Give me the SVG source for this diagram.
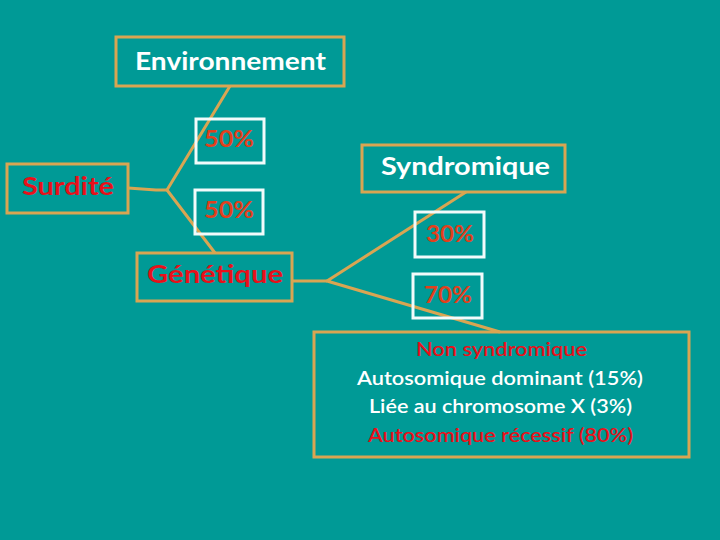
<svg xmlns="http://www.w3.org/2000/svg" width="720" height="540" viewBox="0 0 720 540">
<style>
.bg{fill:#009A96}
.ob{fill:none;stroke:#D9A552;stroke-width:3}
.wb{fill:none;stroke:#F2FBFB;stroke-width:3}
.ln{fill:none;stroke:#D9A552;stroke-width:3;stroke-linejoin:round}
text{font-family:Lato,"Open Sans","Liberation Sans",sans-serif;font-weight:bold}
.w{fill:#FFFFFF}
.r{fill:#E8101A}
.p{fill:#E2401C}
.m{font-size:19px;font-weight:600}
</style>
<rect class="bg" x="0" y="0" width="720" height="540"/>
<g id="connectors">
<polyline class="ln" points="128,188 156,190 167,190"/>
<polyline class="ln" points="230,86 167,190 215,253"/>
<polyline class="ln" points="292,281 327,281"/>
<polyline class="ln" points="466,192 327,281 500,332"/>
</g>
<g id="environnement">
<rect class="ob" x="116" y="37" width="228" height="49"/>
<text class="w" x="135" y="70" font-size="25" textLength="191" lengthAdjust="spacingAndGlyphs">Environnement</text>
</g>
<g id="pct-env">
<rect class="wb" x="196" y="119" width="68" height="44"/>
<text class="p" x="204" y="147" font-size="22" textLength="50" lengthAdjust="spacingAndGlyphs">50%</text>
</g>
<g id="surdite">
<rect class="ob" x="7" y="164" width="121" height="49"/>
<text class="r" x="22" y="195" font-size="25" textLength="92" lengthAdjust="spacingAndGlyphs">Surdité</text>
</g>
<g id="pct-gen">
<rect class="wb" x="195" y="190" width="68" height="44"/>
<text class="p" x="204" y="218" font-size="22" textLength="50" lengthAdjust="spacingAndGlyphs">50%</text>
</g>
<g id="genetique">
<rect class="ob" x="137" y="253" width="155" height="48"/>
<text class="r" x="147" y="283" font-size="25" textLength="136" lengthAdjust="spacingAndGlyphs">Génétique</text>
</g>
<g id="syndromique">
<rect class="ob" x="362" y="145" width="203" height="47"/>
<text class="w" x="381" y="175" font-size="25" textLength="169" lengthAdjust="spacingAndGlyphs">Syndromique</text>
</g>
<g id="pct-synd">
<rect class="wb" x="415" y="212" width="69" height="45"/>
<text class="p" x="426" y="242" font-size="22" textLength="48" lengthAdjust="spacingAndGlyphs">30%</text>
</g>
<g id="pct-nonsynd">
<rect class="wb" x="413" y="274" width="69" height="44"/>
<text class="p" x="424" y="303" font-size="22" textLength="48" lengthAdjust="spacingAndGlyphs">70%</text>
</g>
<g id="non-syndromique">
<rect class="ob" x="314" y="332" width="375" height="125"/>
<text class="r m" x="416" y="356" textLength="171" lengthAdjust="spacingAndGlyphs">Non syndromique</text>
<text class="w m" x="357" y="385" textLength="286" lengthAdjust="spacingAndGlyphs">Autosomique dominant (15%)</text>
<text class="w m" x="369" y="413" textLength="263" lengthAdjust="spacingAndGlyphs">Liée au chromosome X (3%)</text>
<text class="r m" x="368" y="442" textLength="265" lengthAdjust="spacingAndGlyphs">Autosomique récessif (80%)</text>
</g>
</svg>
